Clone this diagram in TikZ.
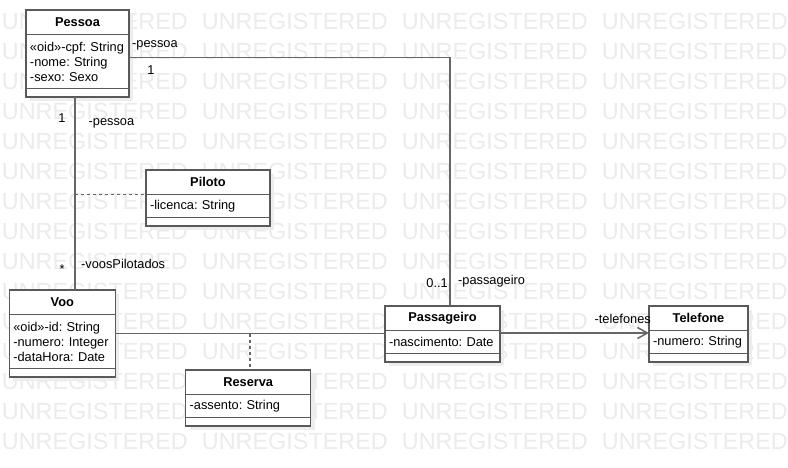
\documentclass[tikz,border=0pt]{standalone}
\usepackage{fontspec}
\setmainfont{Liberation Sans}
\usepackage{tikz}
\usetikzlibrary{
    positioning,
    arrows.meta,
    shadows
}
\tikzset{
    classbox/.style={
        rectangle, draw=black!65, line width=1.5pt, fill=white,
        outer sep=0pt,
        drop shadow={shadow xshift=4pt, shadow yshift=-4pt, fill=black!7, opacity=1}
    },
    classtitle/.style={
        classbox, minimum height=24.5pt,
        font=\fontsize{12.8}{15}\selectfont\bfseries
    },
    classattr/.style={
        classbox, inner xsep=4pt, inner ysep=0pt, align=left,
        font=\fontsize{12.8}{15}\selectfont\frenchspacing
    },
    classop/.style={
        classbox, minimum height=8.5pt, inner sep=0pt
    },
    assoc/.style={
        draw=black!60, line width=1.5pt
    },
    assocclass/.style={
        draw=black!60, line width=1.5pt, dash pattern=on 3pt off 3pt
    },
    rolelabel/.style={
        font=\fontsize{12.8}{15}\selectfont, inner sep=0pt
    },
    watermark/.style={
        font=\fontsize{23.4}{28}\selectfont, text=black!8, inner sep=0pt
    }
}
\begin{document}
\begin{tikzpicture}[x=1pt, y=-1pt]
    \useasboundingbox (0,0) rectangle (788,467);

    % watermark rows
    \foreach \r in {0,...,14} {
        \foreach \c in {0,...,3} {
            \node[watermark, anchor=base west] (wm-\r-\c) at ({1.7+200*\c},{29.5+30*\r}) {UNREGISTERED};
        }
    }

    % Pessoa
    \node[classtitle, minimum width=103pt, anchor=north west] (pessoa-title) at (26,10) {Pessoa};
    \node[classattr, text width=95pt, minimum height=54pt, below=0pt of pessoa-title] (pessoa-attr) {«oid»-cpf:~String\\-nome:~String\\-sexo:~Sexo};
    \node[classop, minimum width=103pt, below=0pt of pessoa-attr] (pessoa-op) {};

    % Piloto
    \node[classtitle, minimum width=124pt, anchor=north west] (piloto-title) at (146,170) {Piloto};
    \node[classattr, text width=116pt, minimum height=23pt, below=0pt of piloto-title] (piloto-attr) {-licenca:~String};
    \node[classop, minimum width=124pt, below=0pt of piloto-attr] (piloto-op) {};

    % Voo
    \node[classtitle, minimum width=106pt, anchor=north west] (voo-title) at (9.3,290) {Voo};
    \node[classattr, text width=98pt, minimum height=54pt, below=0pt of voo-title] (voo-attr) {«oid»-id:~String\\-numero:~Integer\\-dataHora:~Date};
    \node[classop, minimum width=106pt, below=0pt of voo-attr] (voo-op) {};

    % Reserva
    \node[classtitle, minimum width=125pt, anchor=north west] (reserva-title) at (185.7,370) {Reserva};
    \node[classattr, text width=117pt, minimum height=23pt, below=0pt of reserva-title] (reserva-attr) {-assento:~String};
    \node[classop, minimum width=125pt, below=0pt of reserva-attr] (reserva-op) {};

    % Passageiro
    \node[classtitle, minimum width=115pt, anchor=north west] (passageiro-title) at (385,306) {Passageiro};
    \node[classattr, text width=107pt, minimum height=23pt, below=0pt of passageiro-title] (passageiro-attr) {-nascimento:~Date};
    \node[classop, minimum width=115pt, below=0pt of passageiro-attr] (passageiro-op) {};

    % Telefone
    \node[classtitle, minimum width=99pt, anchor=north west] (telefone-title) at (649,306) {Telefone};
    \node[classattr, text width=91pt, minimum height=23pt, below=0pt of telefone-title] (telefone-attr) {-numero:~String};
    \node[classop, minimum width=99pt, below=0pt of telefone-attr] (telefone-op) {};

    % associations
    \draw[assoc] ([yshift=4pt]pessoa-attr.east) -| ([xshift=7.5pt]passageiro-title.north);
    \draw[assoc] ([xshift=-2.5pt]pessoa-op.south) coordinate (pv-top) -- (pv-top |- voo-title.north);
    \draw[assocclass] (pv-top |- piloto-attr.north) -- (piloto-attr.north west);
    \draw[assoc] ([yshift=8pt]voo-attr.east) coordinate (vp-start) -- (vp-start -| passageiro-attr.west);
    \draw[assocclass] ([xshift=2pt]reserva-title.north |- vp-start) -- ([xshift=2pt]reserva-title.north);
    \draw[assoc, -{Straight Barb[length=10pt, width=11pt]}] ([yshift=9pt]passageiro-attr.east) -- ([yshift=9pt]telefone-attr.west);

    % roles and multiplicities
    \node[rolelabel, anchor=base west] (pessoa-role-a) at (132,47) {-pessoa};
    \node[rolelabel, anchor=base] (pessoa-mult-a) at (151,74) {1};
    \node[rolelabel, anchor=base] (pessoa-mult-b) at (62,122) {1};
    \node[rolelabel, anchor=base west] (pessoa-role-b) at (88.5,125) {-pessoa};
    \node[rolelabel, anchor=base] (voo-mult) at (62,273) {*};
    \node[rolelabel, anchor=base west] (voo-role) at (81,268.5) {-voosPilotados};
    \node[rolelabel, anchor=base east] (passageiro-mult) at (448,287.5) {0..1};
    \node[rolelabel, anchor=base west] (passageiro-role) at (458,284) {-passageiro};
    \node[rolelabel, anchor=base east] (telefone-role) at (651,323.5) {-telefones};

\end{tikzpicture}
\end{document}
